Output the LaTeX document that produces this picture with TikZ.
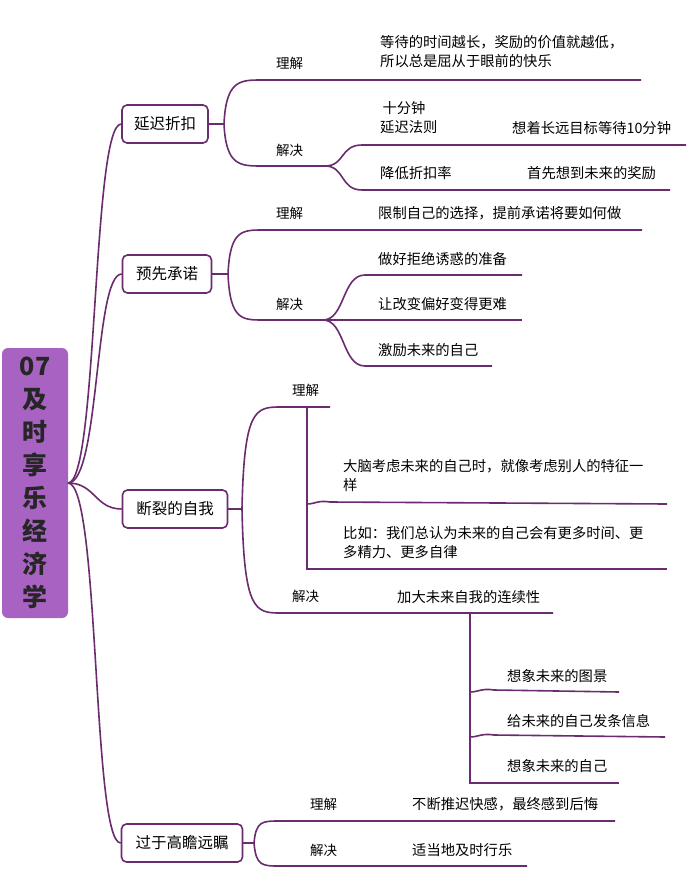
\documentclass[tikz,border=0pt]{standalone}
\usepackage{fontspec}
\setmainfont{Noto Sans CJK SC}
\begin{document}
\begin{tikzpicture}[x=1pt,y=-1pt,
  ln/.style={draw=lc,line width=1.6pt},
  br/.style={draw=lc,line width=1.6pt,rounded corners=5pt,fill=white,minimum height=38pt,inner xsep=6pt,font=\fontsize{15.5}{18}\selectfont},
  lb/.style={font=\fontsize{13.5}{15}\selectfont,anchor=west,inner sep=0pt},
  tx/.style={font=\fontsize{14.3}{19}\selectfont,anchor=west,inner sep=0pt,align=left}]
\definecolor{lc}{HTML}{6A2C6E}
\definecolor{rootc}{HTML}{A863C2}
\useasboundingbox (0,0) rectangle (690,893);
\fill[white] (0,0) rectangle (690,893);
% root
\node[fill=rootc,rounded corners=6pt,minimum width=66pt,minimum height=270pt,inner sep=0pt,align=center,font=\fontsize{25}{33}\selectfont\bfseries,text=black!85] (root) at (35,483) {07\\及\\时\\享\\乐\\经\\济\\学};
\coordinate (r) at (68,483);
% branch nodes
\node[br,minimum width=86pt] (b1) at (165,124) {延迟折扣};
\node[br,minimum width=89pt] (b2) at (167,274) {预先承诺};
\node[br,minimum width=105pt] (b3) at (175,509) {断裂的自我};
\node[br,minimum width=121pt] (b4) at (182,843) {过于高瞻远瞩};
\draw[ln] (r) .. controls (98,483) and (92,124) .. (b1.west);
\draw[ln] (r) .. controls (100,483) and (94,274) .. (b2.west);
\draw[ln] (r) .. controls (95,483) and (95,509) .. (b3.west);
\draw[ln] (r) .. controls (100,483) and (92,843) .. (b4.west);
% branch 1
\coordinate (f1) at (224,124);
\draw[ln] (b1.east) -- (f1);
\draw[ln] (f1) .. controls (226,80) and (240,80) .. (262,80) -- (641,80);
\draw[ln] (f1) .. controls (226,166) and (240,166) .. (262,166) -- (325,166);
\coordinate (g1) at (325,166);
\draw[ln] (g1) .. controls (345,166) and (340,145) .. (362,145) -- (686,145);
\draw[ln] (g1) .. controls (345,166) and (340,190) .. (362,190) -- (670,190);
\node[lb] (l11) at (276,63) {理解};
\node[lb] (l12) at (276,150) {解决};
\node[tx] (t11) at (380,52) {等待的时间越长，奖励的价值就越低，\\所以总是屈从于眼前的快乐};
\node[tx] (t12) at (380,118) {\,十分钟\\延迟法则};
\node[tx] (t13) at (512,128) {想着长远目标等待10分钟};
\node[tx] (t14) at (380,173) {降低折扣率};
\node[tx] (t15) at (527,173) {首先想到未来的奖励};
% branch 2
\coordinate (f2) at (228,274);
\draw[ln] (b2.east) -- (f2);
\draw[ln] (f2) .. controls (230,230) and (242,230) .. (263,230) -- (642,230);
\draw[ln] (f2) .. controls (230,320) and (242,320) .. (263,320) -- (323,320);
\coordinate (g2) at (323,320);
\draw[ln] (g2) .. controls (345,320) and (342,275) .. (365,275) -- (522,275);
\draw[ln] (g2) -- (522,320);
\draw[ln] (g2) .. controls (345,320) and (342,366) .. (365,366) -- (492,366);
\node[lb] (l21) at (276,213) {理解};
\node[lb] (l22) at (276,304) {解决};
\node[tx] (t21) at (378,213) {限制自己的选择，提前承诺将要如何做};
\node[tx] (t22) at (378,259) {做好拒绝诱惑的准备};
\node[tx] (t23) at (378,304) {让改变偏好变得更难};
\node[tx] (t24) at (378,350) {激励未来的自己};
% branch 3
\coordinate (f3) at (242,509);
\draw[ln] (b3.east) -- (f3);
\draw[ln] (f3) .. controls (244,410) and (255,407) .. (280,407) -- (330,407);
\draw[ln] (f3) .. controls (244,610) and (255,613) .. (280,613) -- (553,613);
\draw[ln] (307,407) -- (307,569) -- (667,569);
\draw[ln] (307,504) .. controls (315,504) and (318,500) .. (330,502) -- (667,504);
\draw[ln] (470,613) -- (470,783) -- (619,783);
\draw[ln] (470,692) .. controls (478,692) and (482,688) .. (494,690) -- (619,692);
\draw[ln] (470,737) .. controls (478,737) and (482,733) .. (494,735) -- (665,737);
\node[lb] (l31) at (292,390) {理解};
\node[lb] (l32) at (292,596) {解决};
\node[tx] (t31) at (343,476) {大脑考虑未来的自己时，就像考虑别人的特征一\\样};
\node[tx] (t32) at (343,543) {比如：我们总认为未来的自己会有更多时间、更\\多精力、更多自律};
\node[tx] (t33) at (397,597) {加大未来自我的连续性};
\node[tx] (t34) at (507,676) {想象未来的图景};
\node[tx] (t35) at (507,721) {给未来的自己发条信息};
\node[tx] (t36) at (507,766) {想象未来的自己};
% branch 4
\coordinate (f4) at (254,843);
\draw[ln] (b4.east) -- (f4);
\draw[ln] (f4) .. controls (256,821) and (262,821) .. (280,821) -- (615,821);
\draw[ln] (f4) .. controls (256,866) and (262,866) .. (280,866) -- (527,866);
\node[lb] (l41) at (310,804) {理解};
\node[lb] (l42) at (310,850) {解决};
\node[tx] (t41) at (412,804) {不断推迟快感，最终感到后悔};
\node[tx] (t42) at (412,850) {适当地及时行乐};
\end{tikzpicture}
\end{document}
